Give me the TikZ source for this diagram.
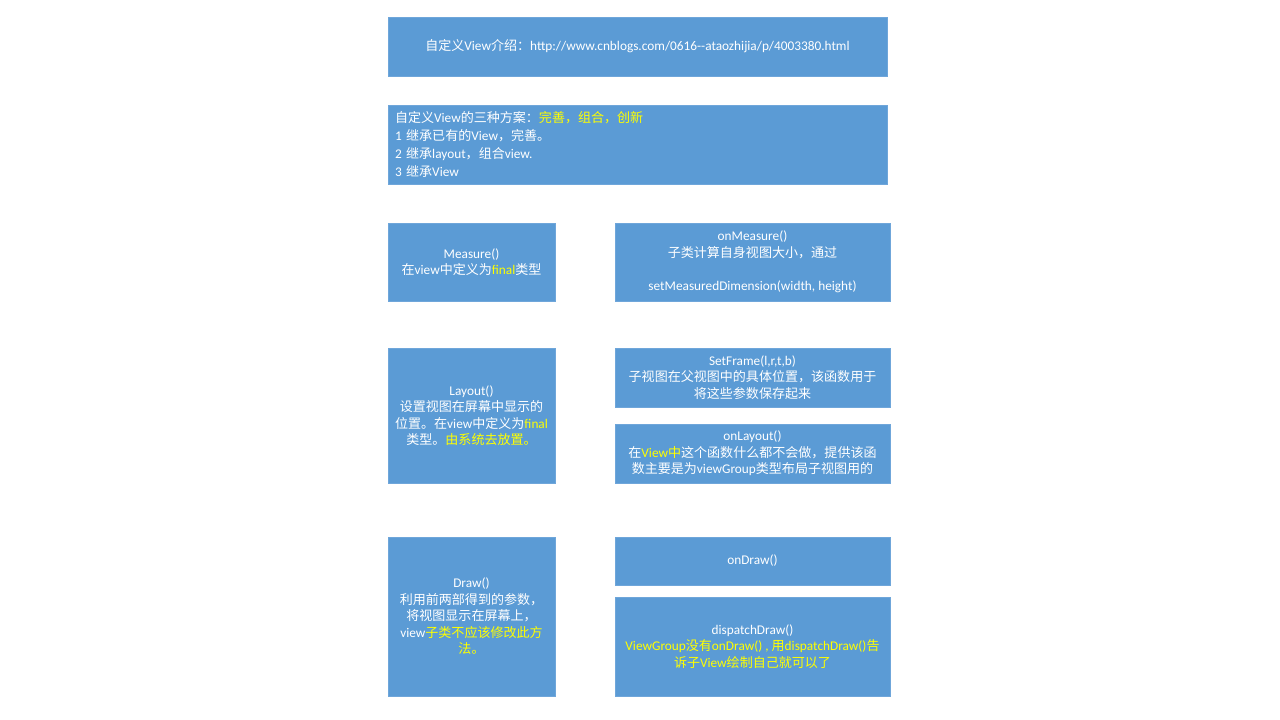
\documentclass[tikz,border=0pt]{standalone}
\usepackage{fontspec}
\setmainfont{Carlito}
\newfontfamily\cjk[Scale=0.98]{Noto Sans CJK SC}
\newcommand\zh[1]{{\cjk #1}}
\usetikzlibrary{shadows}
\definecolor{boxblue}{HTML}{5B9BD5}
\definecolor{boxedge}{HTML}{6FA6DA}
\definecolor{yel}{HTML}{FFFF00}
\newcommand\yel[1]{{\color{yel}#1}}
\tikzset{
  box/.style={draw=boxedge, line width=0.6pt, fill=boxblue, text=white, inner sep=0pt, align=center,
    font=\fontsize{13.3}{16.5}\selectfont,
    drop shadow={shadow xshift=0.8pt, shadow yshift=-1.2pt, opacity=0.15, fill=black}},
  narrow/.style={minimum width=167pt},
  wide/.style={minimum width=275pt}
}
\begin{document}
\begin{tikzpicture}[x=1pt,y=-1pt]
\fill[white] (0,0) rectangle (1280,720);
\useasboundingbox (0,0) rectangle (1280,720);

\node[box, minimum width=499pt, minimum height=59pt] (intro) at (637.5,46.5)
  {\zh{自定义}View\zh{介绍：}http://www.cnblogs.com/0616-{}-ataozhijia/p/4003380.html};

\node[box, minimum width=499pt, minimum height=79pt, text width=485pt, align=left, inner xsep=7pt,
  font=\fontsize{13.3}{18}\selectfont] (schemes) at (637.5,144.5)
  {\zh{自定义}View\zh{的三种方案：}\yel{\zh{完善，组合，创新}}\\
   1 \zh{继承已有的}View\zh{，完善。}\\
   2 \zh{继承}layout\zh{，组合}view.\\
   3 \zh{继承}View};

\node[box, narrow, minimum height=78pt] (measure) at (471.5,262)
  {Measure()\\\zh{在}view\zh{中定义为}\yel{final}\zh{类型}};
\node[box, wide, minimum height=78pt] (onmeasure) at (752.5,262)
  {onMeasure()\\\zh{子类计算自身视图大小，通过}\\\strut\\setMeasuredDimension(width, height)};

\node[box, narrow, minimum height=135pt] (layout) at (471.5,415.5)
  {Layout()\\\zh{设置视图在屏幕中显示的}\\\zh{位置。在}view\zh{中定义为}\yel{final}\\\zh{类型。}\yel{\zh{由系统去放置。}}};
\node[box, wide, minimum height=59pt] (setframe) at (752.5,377.5)
  {SetFrame(l,r,t,b)\\\zh{子视图在父视图中的具体位置，该函数用于}\\\zh{将这些参数保存起来}};
\node[box, wide, minimum height=59pt] (onlayout) at (752.5,453.5)
  {onLayout()\\\zh{在}\yel{View\zh{中}}\zh{这个函数什么都不会做，提供该函}\\\zh{数主要是为}viewGroup\zh{类型布局子视图用的}};

\node[box, narrow, minimum height=159pt] (draw) at (471.5,616.5)
  {Draw()\\\zh{利用前两部得到的参数，}\\\zh{将视图显示在屏幕上，}\\view\yel{\zh{子类不应该修改此方}}\\\yel{\zh{法。}}};
\node[box, wide, minimum height=48pt] (ondraw) at (752.5,561)
  {onDraw()};
\node[box, wide, minimum height=99pt] (dispatch) at (752.5,646.5)
  {dispatchDraw()\\\yel{ViewGroup\zh{没有}onDraw() , \zh{用}dispatchDraw()\zh{告}}\\\yel{\zh{诉子}View\zh{绘制自己就可以了}}};
\end{tikzpicture}
\end{document}
